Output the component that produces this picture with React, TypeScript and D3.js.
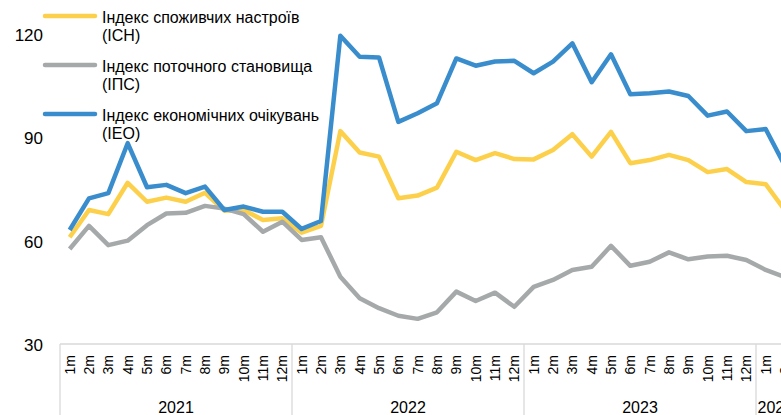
import * as d3 from 'd3'
import { useEffect, useRef } from 'react'

// months per year (2024 only has two in the picture, the rest is cut off)
const years = ['2021', '2022', '2023', '2024']
const monthsPerYear = [12, 12, 12, 2]

// Індекс споживчих настроїв (ІСН)
const ichValues = [
  61.0, 68.9, 67.7, 76.8, 71.3, 72.5, 71.3, 73.9, 68.7, 68.9, 66.0, 66.5,
  62.3, 64.3, 91.8, 85.6, 84.4, 72.3, 73.1, 75.4, 85.8, 83.4, 85.4, 83.7,
  83.6, 86.3, 90.9, 84.4, 91.6, 82.5, 83.4, 84.9, 83.4, 79.9, 80.8, 77.0,
  76.4, 68.8,
]
// Індекс поточного становища (ІПС)
const ipsValues = [
  57.6, 64.3, 58.7, 60.0, 64.5, 67.9, 68.1, 70.1, 69.3, 67.7, 62.6, 65.5,
  60.2, 61.0, 49.5, 43.3, 40.4, 38.2, 37.3, 39.2, 45.2, 42.5, 44.9, 40.8,
  46.6, 48.6, 51.5, 52.4, 58.5, 52.7, 53.9, 56.6, 54.6, 55.4, 55.6, 54.4,
  51.5, 49.4,
]
// Індекс економічних очікувань (ІЕО)
const ieoValues = [
  63.1, 72.3, 73.8, 88.3, 75.5, 76.2, 73.8, 75.7, 68.9, 69.9, 68.4, 68.4,
  63.4, 65.7, 119.5, 113.4, 113.2, 94.5, 97.0, 99.9, 112.9, 110.8, 112.0, 112.2,
  108.6, 112.0, 117.3, 106.0, 114.1, 102.5, 102.8, 103.3, 102.0, 96.3, 97.5, 91.8,
  92.4, 81.7,
]
const yTicks = [30, 60, 90, 120]

const seriesNames = [
  ['Індекс споживчих настроїв', '(ІСН)'],
  ['Індекс поточного становища', '(ІПС)'],
  ['Індекс економічних очікувань', '(ІЕО)'],
]
const colors = ['#FDD04B', '#A6A9AA', '#3A8DCD']

const FONT = '"Liberation Sans", Arial, sans-serif'

export default function App() {
  const svgRef = useRef<SVGSVGElement>(null)

  useEffect(() => {
    const width = 781
    const height = 415
    const left = 60
    const step = (756 - 60) / 36

    // build category keys like 2021-1 .. 2024-2
    const keys: string[] = []
    const monthLabels: string[] = []
    years.forEach((yr, i) => {
      for (let m = 1; m <= monthsPerYear[i]; m++) {
        keys.push(yr + '-' + m)
        monthLabels.push(m + 'm')
      }
    })

    const x = d3.scaleBand<string>()
      .domain(keys)
      .range([left, left + step * keys.length])
      .padding(0)

    const y = d3.scaleLinear()
      .domain([30, 120])
      .range([344, 34])

    const svg = d3.select(svgRef.current)
    svg.selectAll('*').remove()

    svg.attr('width', width).attr('height', height)
      .style('font-family', FONT)

    // y tick labels (no axis line, no grid)
    svg.append('g')
      .selectAll('text')
      .data(yTicks)
      .join('text')
      .attr('x', 43)
      .attr('y', (d) => y(d) + 1.5)
      .attr('text-anchor', 'end')
      .attr('dominant-baseline', 'central')
      .attr('font-size', 17)
      .attr('fill', '#000')
      .text((d) => d)

    // x axis line
    const axisY = y(30)
    svg.append('line')
      .attr('x1', left).attr('x2', width)
      .attr('y1', axisY).attr('y2', axisY)
      .attr('stroke', '#D9D9D9').attr('stroke-width', 1.3)

    // year dividers
    let acc = 0
    const bounds = [0]
    monthsPerYear.forEach((n) => { acc += n; bounds.push(acc) })
    svg.append('g')
      .selectAll('line')
      .data(bounds.slice(0, -1))
      .join('line')
      .attr('x1', (d) => left + d * step)
      .attr('x2', (d) => left + d * step)
      .attr('y1', axisY).attr('y2', height)
      .attr('stroke', '#D9D9D9').attr('stroke-width', 1.3)

    // month labels, rotated
    svg.append('g')
      .selectAll('text')
      .data(keys)
      .join('text')
      .attr('transform', (d) => `translate(${x(d)! + x.bandwidth() / 2},355) rotate(-90)`)
      .attr('text-anchor', 'end')
      .attr('dominant-baseline', 'central')
      .attr('font-size', 14)
      .text((_, i) => monthLabels[i])

    // year labels
    svg.append('g')
      .selectAll('text')
      .data(years)
      .join('text')
      .attr('x', (_, i) => left + ((bounds[i] + bounds[i + 1]) / 2) * step)
      .attr('y', 407)
      .attr('text-anchor', 'middle')
      .attr('dominant-baseline', 'central')
      .attr('font-size', 16)
      .text((d) => d)

    // lines
    const line = d3.line<number>()
      .x((_, i) => x(keys[i])! + x.bandwidth() / 2)
      .y((d) => y(d))

    const allSeries = [ichValues, ipsValues, ieoValues]
    allSeries.forEach((vals, i) => {
      svg.append('path')
        .datum(vals)
        .attr('d', line)
        .attr('fill', 'none')
        .attr('stroke', colors[i])
        .attr('stroke-width', 4.5)
        .attr('stroke-linejoin', 'round')
    })

    // legend
    const legendY = [16, 65, 114]
    const lg = svg.append('g')
    seriesNames.forEach((names, i) => {
      lg.append('line')
        .attr('x1', 45).attr('x2', 95)
        .attr('y1', legendY[i]).attr('y2', legendY[i])
        .attr('stroke', colors[i])
        .attr('stroke-width', 4.5)
        .attr('stroke-linecap', 'round')
      names.forEach((t, j) => {
        lg.append('text')
          .attr('x', 102)
          .attr('y', legendY[i] + 1 + j * 18)
          .attr('dominant-baseline', 'central')
          .attr('font-size', 16)
          .text(t)
      })
    })
  }, [])

  return (
    <svg
      ref={svgRef}
      width={781}
      height={415}
      style={{ position: 'absolute', left: 0, top: 0, background: '#fff', overflow: 'hidden' }}
    />
  )
}
